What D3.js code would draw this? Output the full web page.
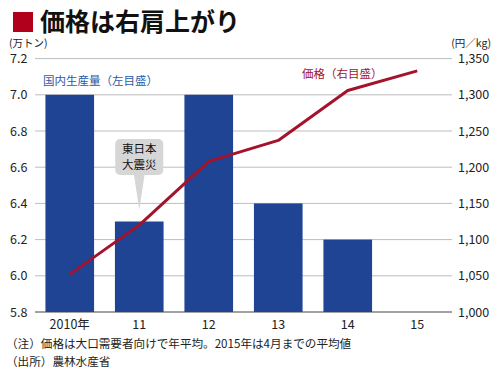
<!DOCTYPE html>
<html><head><meta charset="utf-8">
<script src="https://cdn.jsdelivr.net/npm/d3@7"></script>
<style>body{margin:0;background:#fff}svg{display:block}text{font-family:"Noto Sans CJK JP","Noto Sans",sans-serif}</style>
</head><body><svg id="c" width="500" height="377"></svg>
<script>
const years = ["2010年","11","12","13","14","15"];
const production = [7.0, 6.3, 7.0, 6.4, 6.2, null];
const price = [1052, 1120, 1208, 1237, 1306, 1333];
const leftTicks = [5.8,6.0,6.2,6.4,6.6,6.8,7.0,7.2];
const rightTicks = [1000,1050,1100,1150,1200,1250,1300,1350];

const svg = d3.select("#c");
const x = d3.scaleBand().domain(years).range([35,452]).paddingInner(0.3).paddingOuter(0.15);
const yL = d3.scaleLinear().domain([5.8,7.2]).range([312,58.6]);
const yR = d3.scaleLinear().domain([1000,1350]).range([312,58.6]);

// title
svg.append("rect").attr("x",13).attr("y",12).attr("width",20).attr("height",20).attr("fill","#b0001c");
svg.append("text").attr("x",40).attr("y",31).attr("font-size",25).attr("font-weight","bold")
  .attr("fill","#111").text("価格は右肩上がり");

// grid
svg.append("g").selectAll("line").data(leftTicks.slice(1)).join("line")
  .attr("x1",35).attr("x2",452).attr("y1",d=>yL(d)).attr("y2",d=>yL(d)).attr("stroke","#bdbdbd").attr("stroke-width",1);

// bars
svg.append("g").selectAll("rect").data(years.map((y,i)=>({y,v:production[i]})).filter(d=>d.v!=null)).join("rect")
  .attr("x",d=>x(d.y)).attr("width",x.bandwidth()).attr("y",d=>yL(d.v)).attr("height",d=>yL(5.8)-yL(d.v)).attr("fill","#1f4494");

// baseline
svg.append("line").attr("x1",35).attr("x2",452).attr("y1",312).attr("y2",312).attr("stroke","#444").attr("stroke-width",1);

// left axis labels
const fs = 12.5;
svg.append("g").selectAll("text").data(leftTicks).join("text")
  .attr("x",10).attr("y",d=>yL(d)+4.5).attr("font-size",fs).attr("fill","#222").text(d=>d.toFixed(1));
// right axis labels
svg.append("g").selectAll("text").data(rightTicks).join("text")
  .attr("x",458).attr("y",d=>yR(d)+4.5).attr("font-size",fs).attr("fill","#222").text(d=>d3.format(",")(d));
// units
svg.append("text").attr("x",9).attr("y",47).attr("font-size",10.5).attr("fill","#222").text("(万トン)");
svg.append("text").attr("x",491).attr("y",47).attr("text-anchor","end").attr("font-size",10.5).attr("fill","#222").text("(円／kg)");

// x labels
svg.append("g").selectAll("text").data(years).join("text")
  .attr("x",d=>x(d)+x.bandwidth()/2).attr("y",329).attr("text-anchor","middle").attr("font-size",fs).attr("fill","#222").text(d=>d);

// annotation bubble
const cx = x("11")+x.bandwidth()/2;
svg.append("path").attr("d",`M${cx-6},170 L${cx},210 L${cx+6},170 Z`).attr("fill","#d6d6d6");
svg.append("rect").attr("x",cx-24).attr("y",139).attr("width",48).attr("height",36).attr("rx",5).attr("fill","#d6d6d6");
svg.append("text").attr("x",cx).attr("y",153).attr("text-anchor","middle").attr("font-size",11.5).attr("fill","#111").text("東日本");
svg.append("text").attr("x",cx).attr("y",169).attr("text-anchor","middle").attr("font-size",11.5).attr("fill","#111").text("大震災");

// price line
const line = d3.line().x((d,i)=>x(years[i])+x.bandwidth()/2).y(d=>yR(d));
svg.append("path").datum(price).attr("d",line).attr("fill","none").attr("stroke","#a3132b").attr("stroke-width",3).attr("stroke-linejoin","round");

// legend labels
svg.append("text").attr("x",43).attr("y",85).attr("font-size",11.5).attr("fill","#2b5aa8").text("国内生産量（左目盛）");
svg.append("text").attr("x",302).attr("y",78).attr("font-size",11.5).attr("fill","#a3132b").text("価格（右目盛）");

// notes
svg.append("text").attr("x",6).attr("y",348).attr("font-size",11.6).attr("fill","#222").text("（注）価格は大口需要者向けで年平均。2015年は4月までの平均値");
svg.append("text").attr("x",6).attr("y",366).attr("font-size",11.6).attr("fill","#222").text("（出所）農林水産省");
</script></body></html>
